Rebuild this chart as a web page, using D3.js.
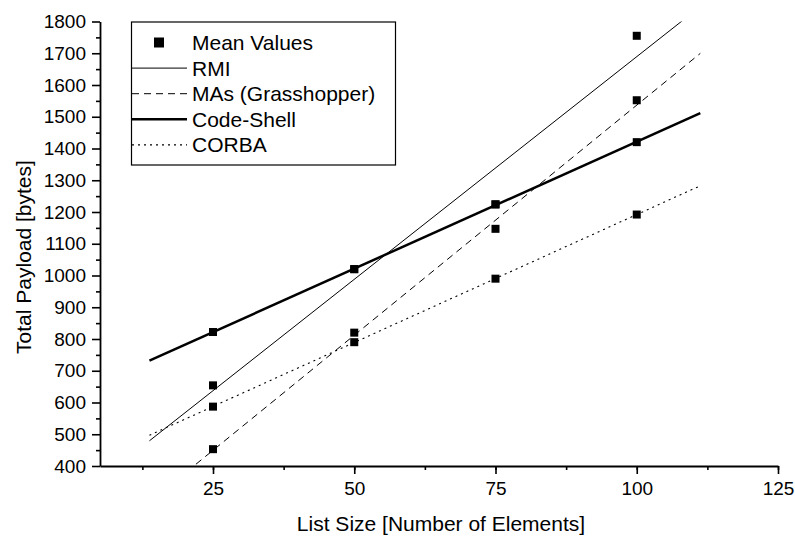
<!DOCTYPE html>
<html>
<head>
<meta charset="utf-8">
<script src="https://cdn.jsdelivr.net/npm/d3@7"></script>
<style>
  body { margin: 0; background: #fff; }
  text { font-family: "Liberation Sans", Arial, sans-serif; fill: #000; }
</style>
</head>
<body>
<svg id="chart"></svg>
<script>
// data
const listSizes = [25, 50, 75, 100];
const rmi = [654, 1020, 1224, 1755];
const mas = [453, 820, 1147, 1552];
const codeShell = [822, 1020, 1224, 1420];
const corba = [587, 790, 990, 1192];

const xTicks = [25, 50, 75, 100, 125];
const yTicks = d3.range(400, 1801, 100);

const series = [
    {name: "RMI", values: rmi, width: 1, dash: null},
    {name: "MAs (Grasshopper)", values: mas, width: 1, dash: "7,5"},
    {name: "Code-Shell", values: codeShell, width: 2.5, dash: null},
    {name: "CORBA", values: corba, width: 1.1, dash: "2,4"}
];

const width = 795;
const height = 538;

const svg = d3.select("#chart")
    .attr("width", width)
    .attr("height", height)
    .attr("viewBox", [0, 0, width, height]);

const x = d3.scaleLinear().domain([5, 125]).range([100, 778]);
const y = d3.scaleLinear().domain([400, 1800]).range([466, 21.5]);

svg.append("clipPath").attr("id", "plot")
    .append("rect")
    .attr("x", x.range()[0]).attr("y", y.range()[1])
    .attr("width", x.range()[1] - x.range()[0])
    .attr("height", y.range()[0] - y.range()[1]);

// linear least squares fit, drawn over the data range widened a bit (like Origin does)
function fit(xs, ys) {
    const mx = d3.mean(xs), my = d3.mean(ys);
    const sxy = d3.sum(xs, (v, i) => (v - mx) * (ys[i] - my));
    const sxx = d3.sum(xs, v => (v - mx) * (v - mx));
    const b = sxy / sxx;
    return v => my + b * (v - mx);
}
const ext = d3.extent(listSizes);
const pad = (ext[1] - ext[0]) * 0.15;
const fitRange = [ext[0] - pad, ext[1] + pad];

const lines = svg.append("g").attr("clip-path", "url(#plot)");
series.forEach(s => {
    const f = fit(listSizes, s.values);
    lines.append("line")
        .attr("x1", x(fitRange[0])).attr("y1", y(f(fitRange[0])))
        .attr("x2", x(fitRange[1])).attr("y2", y(f(fitRange[1])))
        .attr("stroke", "#000")
        .attr("stroke-width", s.width)
        .attr("stroke-dasharray", s.dash);
});

// mean value markers
const m = 8;
series.forEach(s => {
    svg.append("g").selectAll("rect")
        .data(s.values)
        .join("rect")
        .attr("x", (d, i) => x(listSizes[i]) - m / 2)
        .attr("y", d => y(d) - m / 2)
        .attr("width", m).attr("height", m)
        .attr("fill", "#000");
});

// axes (minor ticks first, then major ticks with labels)
svg.append("g")
    .attr("transform", `translate(0,${y.range()[0]})`)
    .call(d3.axisBottom(x).tickValues(d3.range(12.5, 125.1, 12.5)).tickSize(4).tickFormat(""))
    .call(g => g.select(".domain").remove());
svg.append("g")
    .attr("transform", `translate(0,${y.range()[0]})`)
    .call(d3.axisBottom(x).tickValues(xTicks).tickSize(8).tickSizeOuter(0).tickPadding(8))
    .call(g => g.selectAll("text").attr("font-size", 19).attr("font-family", null))
    .call(g => g.select(".domain").attr("stroke-width", 1.8));

svg.append("g")
    .attr("transform", `translate(${x.range()[0]},0)`)
    .call(d3.axisLeft(y).tickValues(d3.range(450, 1800, 100)).tickSize(4).tickFormat(""))
    .call(g => g.select(".domain").remove());
svg.append("g")
    .attr("transform", `translate(${x.range()[0]},0)`)
    .call(d3.axisLeft(y).tickValues(yTicks).tickSize(8).tickSizeOuter(0).tickPadding(6).tickFormat(d3.format("d")))
    .call(g => g.selectAll("text").attr("font-size", 19).attr("font-family", null))
    .call(g => g.select(".domain").attr("stroke-width", 1.8));

svg.selectAll(".tick line").attr("stroke-width", 1.6);

// axis titles
svg.append("text")
    .attr("x", 441).attr("y", 531)
    .attr("text-anchor", "middle")
    .attr("font-size", 21)
    .text("List Size [Number of Elements]");

svg.append("text")
    .attr("transform", "translate(31,257) rotate(-90)")
    .attr("text-anchor", "middle")
    .attr("font-size", 21)
    .text("Total Payload [bytes]");

// legend
const legend = svg.append("g");
legend.append("rect")
    .attr("x", 131.5).attr("y", 22)
    .attr("width", 264).attr("height", 143)
    .attr("fill", "#fff")
    .attr("stroke", "#000")
    .attr("stroke-width", 1.2);

const rowY = i => 42.5 + i * 25.6;
legend.append("rect")
    .attr("x", 154).attr("y", rowY(0) - 5)
    .attr("width", 10).attr("height", 10)
    .attr("fill", "#000");
legend.append("text")
    .attr("x", 192).attr("y", rowY(0)).attr("dy", "0.36em")
    .attr("font-size", 21)
    .text("Mean Values");

series.forEach((s, i) => {
    legend.append("line")
        .attr("x1", 132).attr("x2", 187)
        .attr("y1", rowY(i + 1)).attr("y2", rowY(i + 1))
        .attr("stroke", "#000")
        .attr("stroke-width", s.width)
        .attr("stroke-dasharray", s.dash);
    legend.append("text")
        .attr("x", 192).attr("y", rowY(i + 1)).attr("dy", "0.36em")
        .attr("font-size", 21)
        .text(s.name);
});
</script>
</body>
</html>
